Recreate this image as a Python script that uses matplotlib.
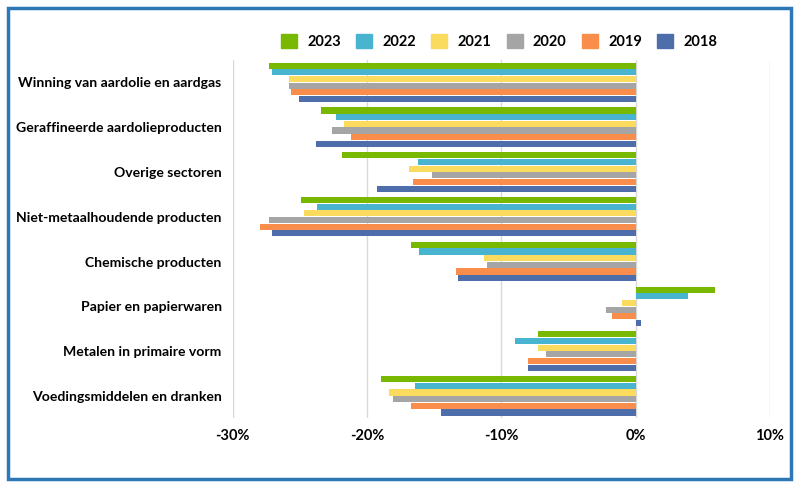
import numpy as np
import matplotlib.pyplot as plt
from matplotlib.patches import Rectangle, Patch

categories = [
    'Winning van aardolie en aardgas',
    'Geraffineerde aardolieproducten',
    'Overige sectoren',
    'Niet-metaalhoudende producten',
    'Chemische producten',
    'Papier en papierwaren',
    'Metalen in primaire vorm',
    'Voedingsmiddelen en dranken',
]

years = ['2023', '2022', '2021', '2020', '2019', '2018']

v2023 = [-27.3, -23.4, -21.9, -24.9, -16.7, 5.9, -7.3, -19.0]
v2022 = [-27.1, -22.3, -16.2, -23.7, -16.1, 3.9, -9.0, -16.4]
v2021 = [-25.8, -21.7, -16.9, -24.7, -11.3, -1.0, -7.3, -18.4]
v2020 = [-25.8, -22.6, -15.2, -27.3, -11.1, -2.2, -6.7, -18.1]
v2019 = [-25.7, -21.2, -16.6, -28.0, -13.4, -1.8, -8.0, -16.7]
v2018 = [-25.1, -23.8, -19.3, -27.1, -13.2, 0.4, -8.0, -14.5]

colors = ['#78B800', '#48B4D0', '#FADB5E', '#A5A5A5', '#F98E4C', '#4E6EAB']

plt.rcParams['font.family'] = ['Lato', 'DejaVu Sans']

fig = plt.figure(figsize=(8, 4.88), dpi=100)
ax = fig.add_axes([0.291, 0.143, 0.6715, 0.734])

series = [v2023, v2022, v2021, v2020, v2019, v2018]
y = np.arange(len(categories))
pitch = 0.149
for k, (vals, col, yr) in enumerate(zip(series, colors, years)):
    ax.barh(y + (k - 2.5) * pitch, vals, height=0.135, color=col, label=yr, zorder=3)

ax.set_xlim(-30, 10)
ax.set_ylim(7.5, -0.5)
ax.set_xticks([-30, -20, -10, 0, 10])
ax.set_xticklabels(['-30%', '-20%', '-10%', '0%', '10%'], fontweight='bold', fontsize=10.5)
ax.set_yticks(y)
ax.set_yticklabels(categories, fontweight='bold', fontsize=10.1)
ax.tick_params(axis='both', length=0)
ax.tick_params(axis='y', pad=8)
ax.tick_params(axis='x', pad=8)
ax.grid(axis='x', color='#D9D9D9', linewidth=1, zorder=0)
for s in ax.spines.values():
    s.set_visible(False)

handles = [Patch(color=c, label=yr) for c, yr in zip(colors, years)]
leg = fig.legend(handles=handles, loc='center', bbox_to_anchor=(0.624, 0.914), ncol=6,
                 frameon=False, handlelength=1.1, handleheight=1.1, columnspacing=1.05,
                 handletextpad=0.7, prop={'weight': 'bold', 'size': 10.5})

fig.patches.append(Rectangle((0.0106, 0.018), 0.978, 0.966, transform=fig.transFigure,
                             fill=False, edgecolor='#2E78B8', linewidth=2.5))

fig.savefig('out.png', dpi=100, facecolor='white')
